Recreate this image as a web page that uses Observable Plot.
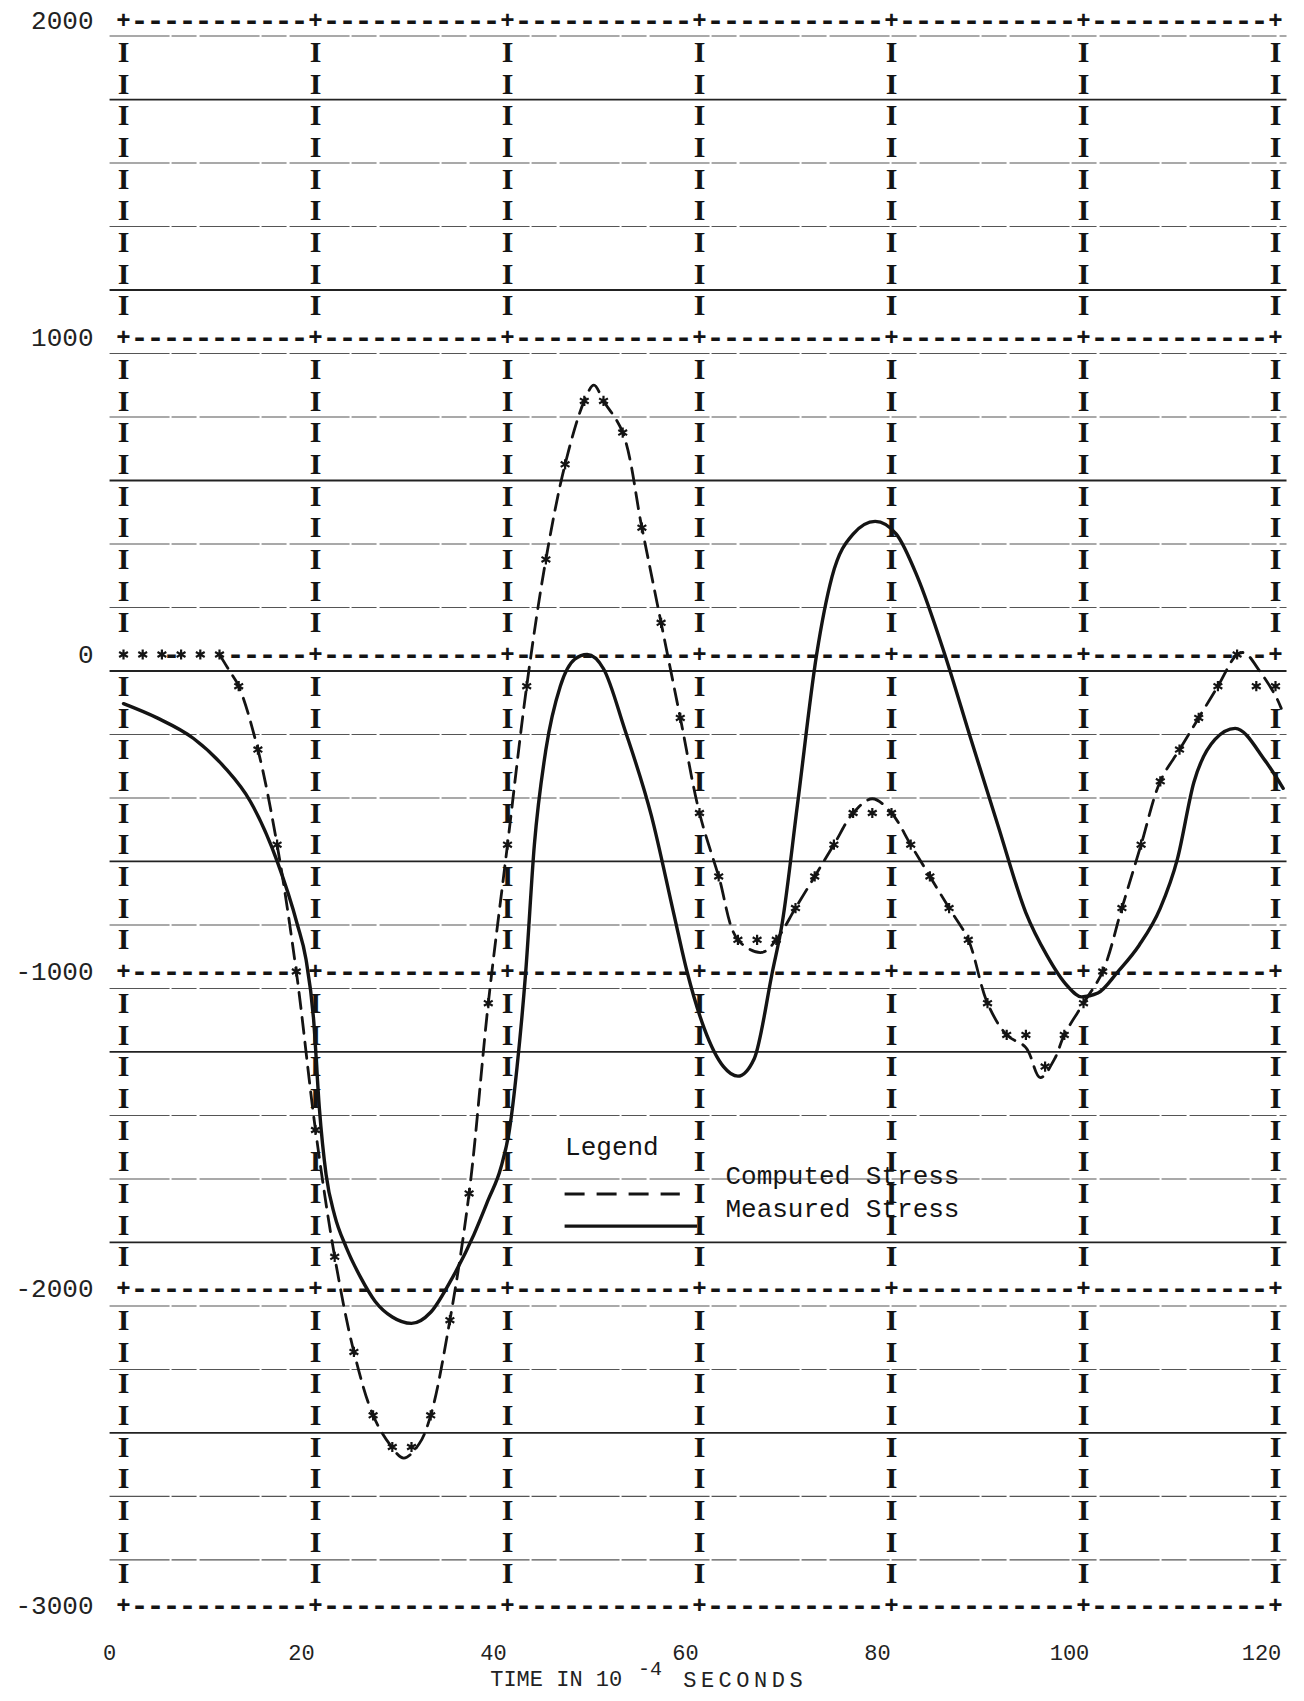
<!DOCTYPE html>
<html>
<head>
<meta charset="utf-8">
<script src="https://cdn.jsdelivr.net/npm/d3@7"></script>
<script src="https://cdn.jsdelivr.net/npm/@observablehq/plot@0.6"></script>
<style>
  html, body { margin: 0; padding: 0; background: #fff; }
  #chart { width: 1304px; height: 1701px; }
  #chart svg { display: block; }
</style>
</head>
<body>
<div id="chart"></div>
<script>
// Computed stress as printed by the line printer (one asterisk per time step), time in 1e-4 s
const computedTime = [0, 2, 4, 6, 8, 10, 12, 14, 16, 18, 20, 22, 24, 26, 28, 30, 32, 34, 36, 38,
  40, 42, 44, 46, 48, 50, 52, 54, 56, 58, 60, 62, 64, 66, 68, 70, 72, 74, 76, 78,
  80, 82, 84, 86, 88, 90, 92, 94, 96, 98, 100, 102, 104, 106, 108, 110, 112, 114, 116, 118, 120];
const computedStress = [0, 0, 0, 0, 0, 0, -100, -300, -600, -1000, -1500, -1900, -2200, -2400, -2500, -2500, -2400, -2100, -1700, -1100,
  -600, -100, 300, 600, 800, 800, 700, 400, 100, -200, -500, -700, -900, -900, -900, -800, -700, -600, -500, -500,
  -500, -600, -700, -800, -900, -1100, -1200, -1200, -1300, -1200, -1100, -1000, -800, -600, -400, -300, -200, -100, 0, -100, -100];

// Dashed curve faired by hand through the printed points
const computedCurveTime = [10, 11, 12, 14, 16, 18, 20, 22, 24, 26, 27.7, 29.2, 30.8, 32, 34, 36, 38, 40, 42, 44,
  46, 48, 49, 50, 52, 54, 56, 58, 60, 62, 64, 66.5, 68, 70, 72, 74, 76, 78, 80, 82,
  84, 86, 88, 90, 92, 94, 95.5, 97, 98, 100, 102, 104, 106, 108, 110, 112, 114, 116, 116.8, 118.3, 120, 120.6];
const computedCurveStress = [0, -50, -100, -300, -600, -1000, -1500, -1900, -2200, -2400, -2490, -2535, -2490, -2400, -2100, -1700, -1100, -600, -100, 300,
  600, 800, 850, 800, 700, 400, 100, -200, -500, -700, -900, -940, -900, -800, -700, -600, -500, -455, -500, -600,
  -700, -800, -900, -1100, -1200, -1240, -1335, -1275, -1200, -1100, -1000, -800, -600, -400, -300, -200, -100, 0, 5, -50, -130, -170];

// Measured stress trace
const measuredTime = [0, 3.5, 7.3, 10.5, 13.2, 16, 18.1, 19.0, 19.8, 20.4, 21.1, 22, 23.2, 24.7, 26.2, 28, 30, 32, 34, 36.5, 38,
  39.3, 40.2, 41, 41.9, 42.8, 44, 45.5, 47, 48.3, 50, 52.2, 55, 57.3, 58.7, 60.5, 62.5, 64, 65.7, 67.6, 68.6,
  70.2, 72.2, 73.8, 76, 78.3, 80.5, 82.7, 85.5, 88.3, 91.1, 94, 96.2, 98.3, 99.8, 101.5, 103.6, 105.8, 108, 109.8, 111.5,
  113.7, 115.8, 118.9, 120.8];
const measuredStress = [-155, -200, -265, -355, -463, -652, -851, -960, -1150, -1430, -1640, -1770, -1870, -1965, -2040, -2090, -2110, -2075, -1980, -1830, -1720,
  -1620, -1500, -1300, -1000, -600, -300, -100, -15, 0, -45, -235, -510, -815, -1000, -1180, -1300, -1330, -1275, -1000, -850,
  -475, 0, 245, 380, 420, 380, 245, 5, -270, -540, -815, -950, -1045, -1080, -1068, -1000, -917, -800, -643, -403,
  -268, -233, -334, -422];

const xTicks = [0, 20, 40, 60, 80, 100, 120];
const xTickLabels = ["0", "20", "40", "60", "80", "100", "120"];
const yTicks = [2000, 1000, 0, -1000, -2000, -3000];
const yTickLabels = ["2000", "1000", "0", "-1000", "-2000", "-3000"];
const legendTitle = "Legend";
const legendLabels = ["Computed Stress", "Measured Stress"];
const axisTitle = ["TIME IN 10", "-4", "SECONDS"];

const stars = computedTime.map((t, i) => ({t, v: computedStress[i]}));
const computedCurve = computedCurveTime.map((t, i) => ({t, v: computedCurveStress[i]}));
const measured = measuredTime.map((t, i) => ({t, v: measuredStress[i]}));

// A printer cell is left blank where an asterisk was printed on the same line
const free = (t, v, gap) => !stars.some(s => s.v === v && Math.abs(s.t - t) < gap);

// Printer frame: "+" at grid crossings, "-" along the 1000-lines, "I" down each column
const plusCells = yTicks.flatMap(v => xTicks.map(t => ({t, v}))).filter(c => free(c.t, c.v, 0.9));
const dashCells = yTicks.flatMap(v => d3.range(0, 120, 20).flatMap(x0 =>
  d3.range(1, 12).map(j => ({t: x0 + 20 * j / 12, v}))))
  .filter(c => free(c.t, c.v, 0.75));
const barRows = d3.range(1900, -3000, -100).filter(v => v % 1000 !== 0);
const barCells = barRows.flatMap(v => xTicks.map(t => ({t, v}))).filter(c => free(c.t, c.v, 0.9));

// Ruled lines of the printer paper, one every two print lines
const paperRules = d3.range(0, 25).map(k => ({v: 1951 - 200.3 * k, heavy: k % 3 === 1}));

const mono = "'Liberation Mono', 'DejaVu Sans Mono', monospace";
const ink = "#141414";

const chart = Plot.plot({
  width: 1304,
  height: 1701,
  marginLeft: 123,
  marginRight: 29,
  marginTop: 20,
  marginBottom: 96,
  x: {domain: [0, 120], axis: null},
  y: {domain: [-3000, 2000], axis: null},
  style: {background: "#fff", overflow: "visible"},
  marks: [
    // paper rules
    Plot.ruleY(paperRules.filter(d => !d.heavy), {y: "v", x1: -1.4, x2: 121.2, stroke: "#555", strokeWidth: 1.1, strokeDasharray: "60,2,25,3"}),
    Plot.ruleY(paperRules.filter(d => d.heavy), {y: "v", x1: -1.4, x2: 121.2, stroke: "#222", strokeWidth: 1.8}),

    // printed frame characters
    Plot.text(barCells, {x: "t", y: "v", text: () => "I", fontFamily: "'Liberation Serif', serif", fontWeight: "bold", fontSize: 30, fill: ink}),
    Plot.text(dashCells, {x: "t", y: "v", text: () => "-", fontFamily: mono, fontWeight: "bold", fontSize: 30, fill: ink}),
    Plot.text(plusCells, {x: "t", y: "v", text: () => "+", fontFamily: mono, fontWeight: "bold", fontSize: 24, fill: ink}),

    // y tick labels
    Plot.text(yTicks, {y: d => d, text: (d, i) => yTickLabels[i], frameAnchor: "left", dx: -30, textAnchor: "end", fontFamily: mono, fontSize: 26, fill: "#222"}),
    // x tick labels
    Plot.text(xTicks, {x: d => d, text: (d, i) => xTickLabels[i], frameAnchor: "bottom", dy: 54, dx: -14, fontFamily: mono, fontSize: 22, fill: "#222"}),

    // axis title, with the exponent raised
    Plot.text([axisTitle[0]], {x: 38.2, frameAnchor: "bottom", dy: 80, textAnchor: "start", fontFamily: mono, fontSize: 22, fill: "#222"}),
    Plot.text([axisTitle[1]], {x: 53.6, frameAnchor: "bottom", dy: 69, textAnchor: "start", fontFamily: mono, fontSize: 20, fill: "#222"}),
    Plot.text([axisTitle[2]], {x: 58.3, frameAnchor: "bottom", dy: 81, textAnchor: "start", fontFamily: mono, fontSize: 22, fill: "#222"}),

    // measured stress
    Plot.line(measured, {x: "t", y: "v", curve: "monotone-x", stroke: ink, strokeWidth: 3.4}),
    // computed stress: faired dashed curve and printed asterisks
    Plot.line(computedCurve, {x: "t", y: "v", curve: "catmull-rom", stroke: ink, strokeWidth: 2.8, strokeDasharray: "16,9"}),
    Plot.dot(stars, {x: "t", y: "v", symbol: "asterisk", r: 4.8, stroke: ink, strokeWidth: 2.2}),

    // legend
    Plot.text([legendTitle], {x: 46.0, y: -1552, textAnchor: "start", fontFamily: mono, fontSize: 26, fill: ink}),
    Plot.ruleY([0], {y: -1702, x1: 46.0, x2: 58.0, stroke: ink, strokeWidth: 3, strokeDasharray: "20,12"}),
    Plot.ruleY([0], {y: -1803, x1: 46.0, x2: 59.8, stroke: ink, strokeWidth: 3.2}),
    Plot.text(legendLabels, {x: 62.7, y: (d, i) => [-1645, -1748][i], textAnchor: "start", fontFamily: mono, fontSize: 26, fill: ink})
  ]
});

// the typed word after the exponent is spaced out
d3.select(chart).selectAll("text")
  .filter(function () { return this.textContent === axisTitle[2]; })
  .style("letter-spacing", "4.5px");

document.getElementById("chart").append(chart);
</script>
</body>
</html>
